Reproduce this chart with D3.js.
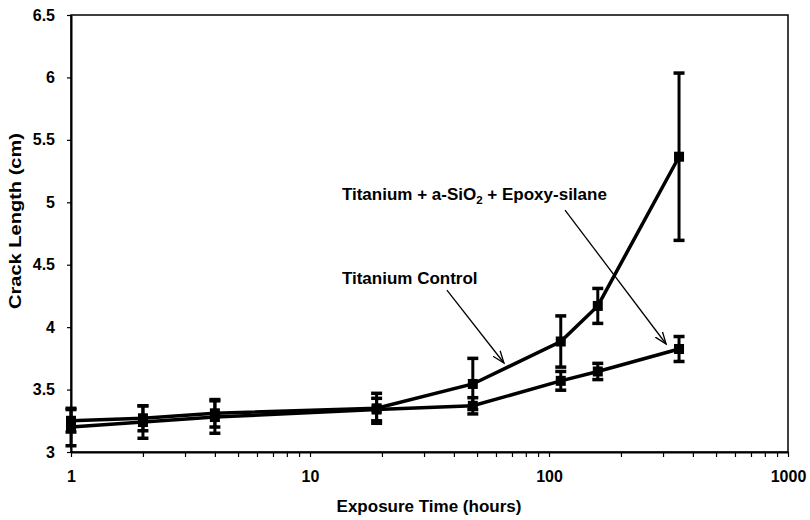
<!DOCTYPE html>
<html>
  <head>
	<meta charset="utf-8">
	<title>Crack Length vs Exposure Time</title>
	<script src="https://d3js.org/d3.v7.min.js"></script>
	<style>
	body { margin: 0; background: white; }
	svg text { font-family: "Liberation Sans", Arial, sans-serif; font-weight: bold; fill: #000; }
	.axis text { font-size: 16px; }
	.axis line { stroke: #000; stroke-width: 1.2; }
	.axis path { stroke: #000; stroke-width: 2; }
	</style>
  </head>
  <body>
	<svg id="chart" width="810" height="520"></svg>
	<script>
		// exposure times (hours)
		var hours = [1, 2, 4, 19, 48, 112, 160, 350];

		// Titanium Control
		var controlMean = [3.25, 3.27, 3.31, 3.35, 3.545, 3.885, 4.17, 5.365];
		var controlErr  = [0.09, 0.10, 0.11, 0.12, 0.205, 0.205, 0.14, 0.67];

		// Titanium + a-SiO2 + Epoxy-silane
		var epoxyMean = [3.20, 3.24, 3.28, 3.34, 3.37, 3.57, 3.645, 3.825];
		var epoxyErr  = [0.15, 0.13, 0.13, 0.09, 0.065, 0.075, 0.065, 0.10];

		var xMajor = [1, 10, 100, 1000];
		var yTicks = [3, 3.5, 4, 4.5, 5, 5.5, 6, 6.5];

		// labels + arrows, in data units (hours, cm)
		var labels = [
			{name: "epoxy", x: 13.6, y: 5.018},
			{name: "control", x: 13.6, y: 4.345}
		];
		var arrows = [
			{from: [37.4, 4.297], to: [64.8, 3.713]},
			{from: [116.7, 4.938], to: [309, 3.865]}
		];

		var margin = {top: 15, right: 22, bottom: 68, left: 71};
		var width = 810, height = 520;

		var x = d3.scaleLog()
			.domain([1, 1000])
			.range([margin.left, width - margin.right]);
		var y = d3.scaleLinear()
			.domain([3, 6.5])
			.range([height - margin.bottom, margin.top]);

		var svg = d3.select("#chart");

		// frame (top + right)
		svg.append("rect")
			.attr("x", x(1)).attr("y", y(6.5))
			.attr("width", x(1000) - x(1))
			.attr("height", y(3) - y(6.5))
			.attr("fill", "none")
			.attr("stroke", "#000")
			.attr("stroke-width", 1.5);

		// minor + major ticks for the log axis
		var xTickVals = [];
		[1, 10, 100].forEach(function(dec) {
			for (var k = 1; k < 10; k++) xTickVals.push(dec * k);
		});
		xTickVals.push(1000);

		svg.append("g")
			.attr("class", "axis")
			.attr("transform", "translate(0," + y(3) + ")")
			.call(d3.axisBottom(x)
				.tickValues(xTickVals)
				.tickSize(5)
				.tickSizeOuter(0)
				.tickPadding(14)
				.tickFormat(function(d) { return xMajor.indexOf(d) >= 0 ? d : ""; }));

		svg.append("g")
			.attr("class", "axis")
			.attr("transform", "translate(" + x(1) + ",0)")
			.call(d3.axisLeft(y)
				.tickValues(yTicks)
				.tickSize(4)
				.tickSizeOuter(0)
				.tickPadding(12)
				.tickFormat(d3.format("")));

		// axis titles
		svg.append("text")
			.attr("x", 429)
			.attr("y", 512)
			.attr("text-anchor", "middle")
			.attr("font-size", 17)
			.text("Exposure Time (hours)");

		svg.append("text")
			.attr("transform", "translate(21,221) rotate(-90)")
			.attr("text-anchor", "middle")
			.attr("font-size", 17)
			.attr("textLength", 176)
			.attr("lengthAdjust", "spacingAndGlyphs")
			.text("Crack Length (cm)");

		function drawSeries(mean, err) {
			var pts = hours.map(function(h, i) { return {h: h, m: mean[i], e: err[i]}; });
			var g = svg.append("g");

			var line = d3.line()
				.x(function(d) { return x(d.h); })
				.y(function(d) { return y(d.m); });

			g.append("path")
				.datum(pts)
				.attr("d", line)
				.attr("fill", "none")
				.attr("stroke", "#000")
				.attr("stroke-width", 3.5);

			var eb = g.selectAll(".err").data(pts).enter().append("g");
			eb.append("line")
				.attr("x1", function(d) { return x(d.h); })
				.attr("x2", function(d) { return x(d.h); })
				.attr("y1", function(d) { return y(d.m - d.e); })
				.attr("y2", function(d) { return y(d.m + d.e); })
				.attr("stroke", "#000").attr("stroke-width", 3);
			[-1, 1].forEach(function(s) {
				eb.append("line")
					.attr("x1", function(d) { return x(d.h) - 5.5; })
					.attr("x2", function(d) { return x(d.h) + 5.5; })
					.attr("y1", function(d) { return y(d.m + s * d.e); })
					.attr("y2", function(d) { return y(d.m + s * d.e); })
					.attr("stroke", "#000").attr("stroke-width", 3.5);
			});

			g.selectAll(".pt").data(pts).enter().append("rect")
				.attr("x", function(d) { return x(d.h) - 5; })
				.attr("y", function(d) { return y(d.m) - 5; })
				.attr("width", 10).attr("height", 10)
				.attr("fill", "#000");
		}

		drawSeries(epoxyMean, epoxyErr);
		drawSeries(controlMean, controlErr);

		// annotation text
		var t1 = svg.append("text")
			.attr("x", x(labels[0].x)).attr("y", y(labels[0].y))
			.attr("font-size", 17);
		t1.append("tspan").text("Titanium + a-SiO");
		t1.append("tspan").attr("font-size", 11.5).attr("dy", 4).text("2");
		t1.append("tspan").attr("dy", -4).text(" + Epoxy-silane");

		svg.append("text")
			.attr("x", x(labels[1].x)).attr("y", y(labels[1].y))
			.attr("font-size", 17)
			.text("Titanium Control");

		// arrows
		svg.append("defs").append("marker")
			.attr("id", "head")
			.attr("viewBox", "-12 -6 14 12")
			.attr("refX", 0).attr("refY", 0)
			.attr("markerWidth", 14).attr("markerHeight", 12)
			.attr("markerUnits", "userSpaceOnUse")
			.attr("orient", "auto")
		  .append("path")
			.attr("d", "M-12,-4.5 L0,0 L-12,4.5")
			.attr("fill", "none")
			.attr("stroke", "#000")
			.attr("stroke-width", 1.3);

		svg.selectAll(".arrow").data(arrows).enter().append("line")
			.attr("x1", function(d) { return x(d.from[0]); })
			.attr("y1", function(d) { return y(d.from[1]); })
			.attr("x2", function(d) { return x(d.to[0]); })
			.attr("y2", function(d) { return y(d.to[1]); })
			.attr("stroke", "#000")
			.attr("stroke-width", 1.3)
			.attr("marker-end", "url(#head)");
	</script>
  </body>
</html>
